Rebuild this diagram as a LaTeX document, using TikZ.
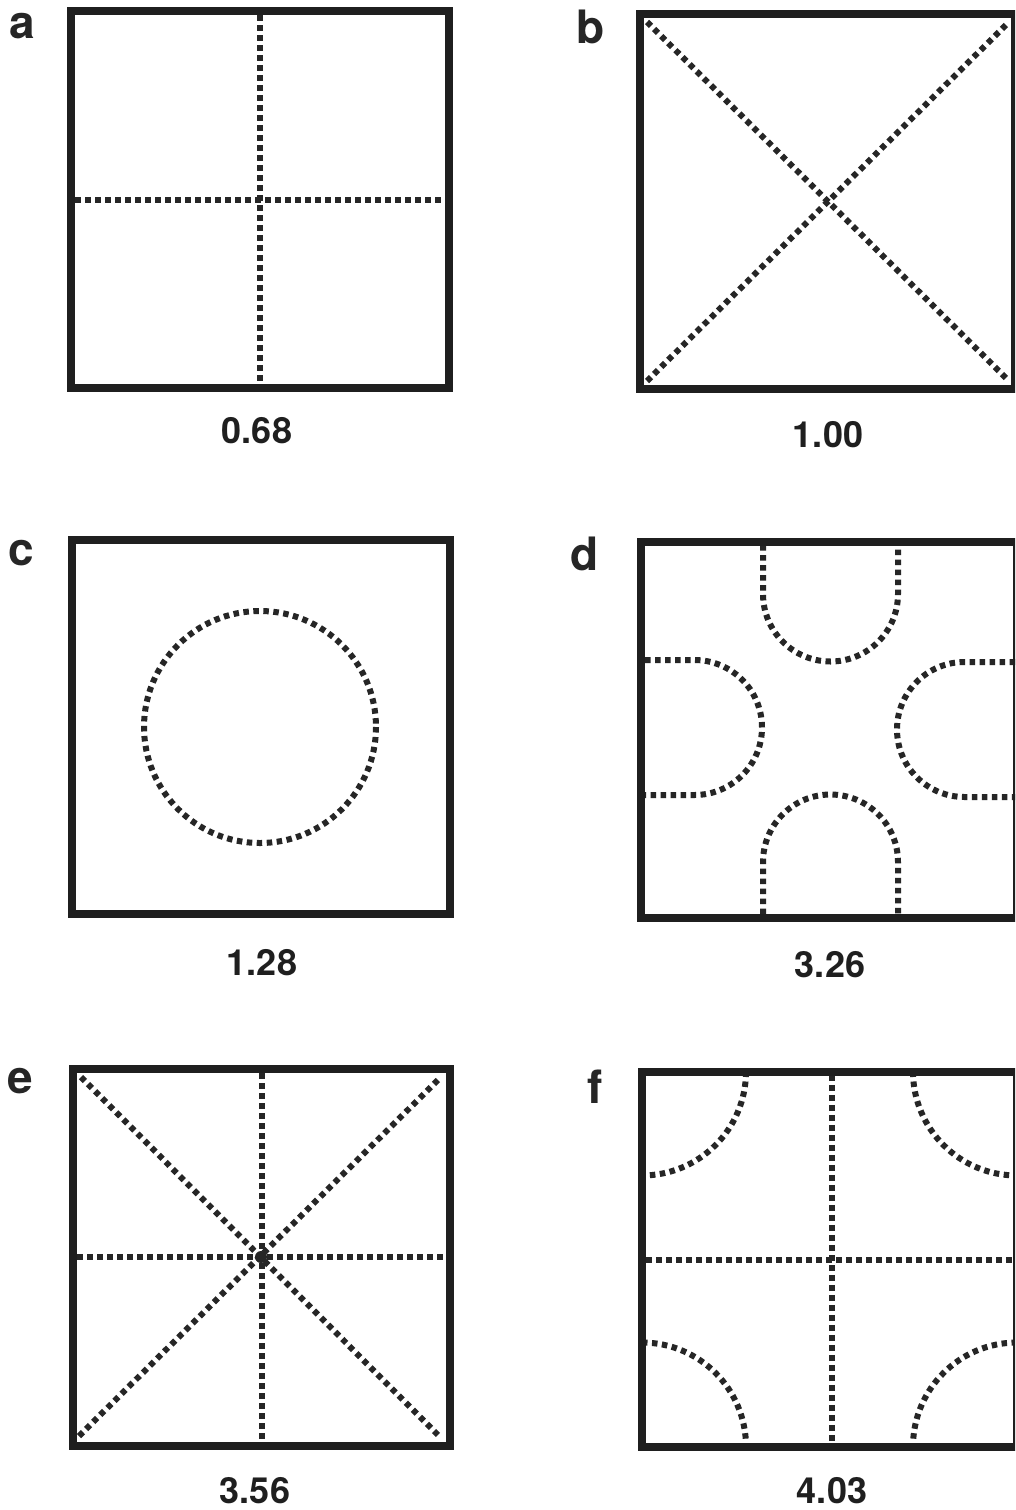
\documentclass[tikz,border=0pt]{standalone}
\usepackage{fontspec}
\setmainfont{TeX Gyre Heros}
\begin{document}
\begin{tikzpicture}[x=1pt,y=-1pt,
  frame/.style={draw=black!88,line width=8pt,line join=miter},
  dotline/.style={draw=black!85,line width=6pt,dash pattern=on 5.5pt off 4.5pt},
  panellabel/.style={font=\bfseries\fontsize{46}{46}\selectfont,anchor=base,inner sep=0pt,text=black!85},
  valuelabel/.style={font=\bfseries\fontsize{36}{36}\selectfont,anchor=base,inner sep=0pt,text=black!88}]
\useasboundingbox (0,0) rectangle (1015,1510);
\clip (0,0) rectangle (1015,1510);
\fill[white] (0,0) rectangle (1015,1510);

% ---------- panel a ----------
\draw[dotline] (260,15) -- (260,384);
\draw[dotline] (75,200) -- (445,200);
\draw[frame] (71,11) rectangle (449,387.5);
\node[panellabel] (la) at (22,38) {a};
\node[valuelabel] (va) at (257,443) {0.68};

% ---------- panel b ----------
\draw[dotline] (647,22) -- (1009,381);
\draw[dotline] (647,381) -- (1009,22);
\draw[frame] (640,14) rectangle (1015,389);
\node[panellabel] (lb) at (591,43) {b};
\node[valuelabel] (vb) at (828,447) {1.00};

% ---------- panel c ----------
\draw[dotline] (260,727) circle[radius=116];
\draw[frame] (72,539.5) rectangle (449.5,914);
\node[panellabel] (lc) at (21,565) {c};
\node[valuelabel] (vc) at (262,975) {1.28};

% ---------- panel d ----------
\draw[dotline] (763,545) -- (763,594) arc[start angle=180,end angle=0,radius=67.5] -- (898,545);
\draw[dotline] (763,914) -- (763,862) arc[start angle=180,end angle=360,radius=67.5] -- (898,914);
\draw[dotline] (645,660) -- (694.5,660) arc[start angle=270,end angle=450,radius=67.5] -- (645,795);
\draw[dotline] (1015,662) -- (964.5,662) arc[start angle=270,end angle=90,radius=67.5] -- (1015,797);
\draw[frame] (641,541.5) rectangle (1017,917.5);
\node[panellabel] (ld) at (585,570) {d};
\node[valuelabel] (vd) at (830,977) {3.26};

% ---------- panel e ----------
\draw[dotline] (262,1073) -- (262,1442);
\draw[dotline] (77,1257) -- (446,1257);
\draw[dotline] (81,1077) -- (440,1437);
\draw[dotline] (79,1436) -- (441,1077);
\fill[black!85] (261,1257) circle[radius=6];
\draw[frame] (72.5,1069) rectangle (450,1446);
\node[panellabel] (le) at (20,1093) {e};
\node[valuelabel] (ve) at (255,1503) {3.56};

% ---------- panel f ----------
\draw[dotline] (832,1075) -- (832,1443);
\draw[dotline] (646,1260) -- (1013,1260);
\begin{scope}
\clip (646,1075.5) rectangle (1013,1442.5);
\draw[dotline] (746,1071.5) arc[start angle=0,end angle=90,radius=104];
\draw[dotline] (913,1071.5) arc[start angle=180,end angle=90,radius=104];
\draw[dotline] (642,1342.5) arc[start angle=270,end angle=360,radius=104];
\draw[dotline] (1017,1342.5) arc[start angle=270,end angle=180,radius=104];
\end{scope}
\draw[frame] (642,1071.5) rectangle (1017,1446.5);
\node[panellabel] (lf) at (595,1103) {f};
\node[valuelabel] (vf) at (832,1503) {4.03};
\end{tikzpicture}
\end{document}
